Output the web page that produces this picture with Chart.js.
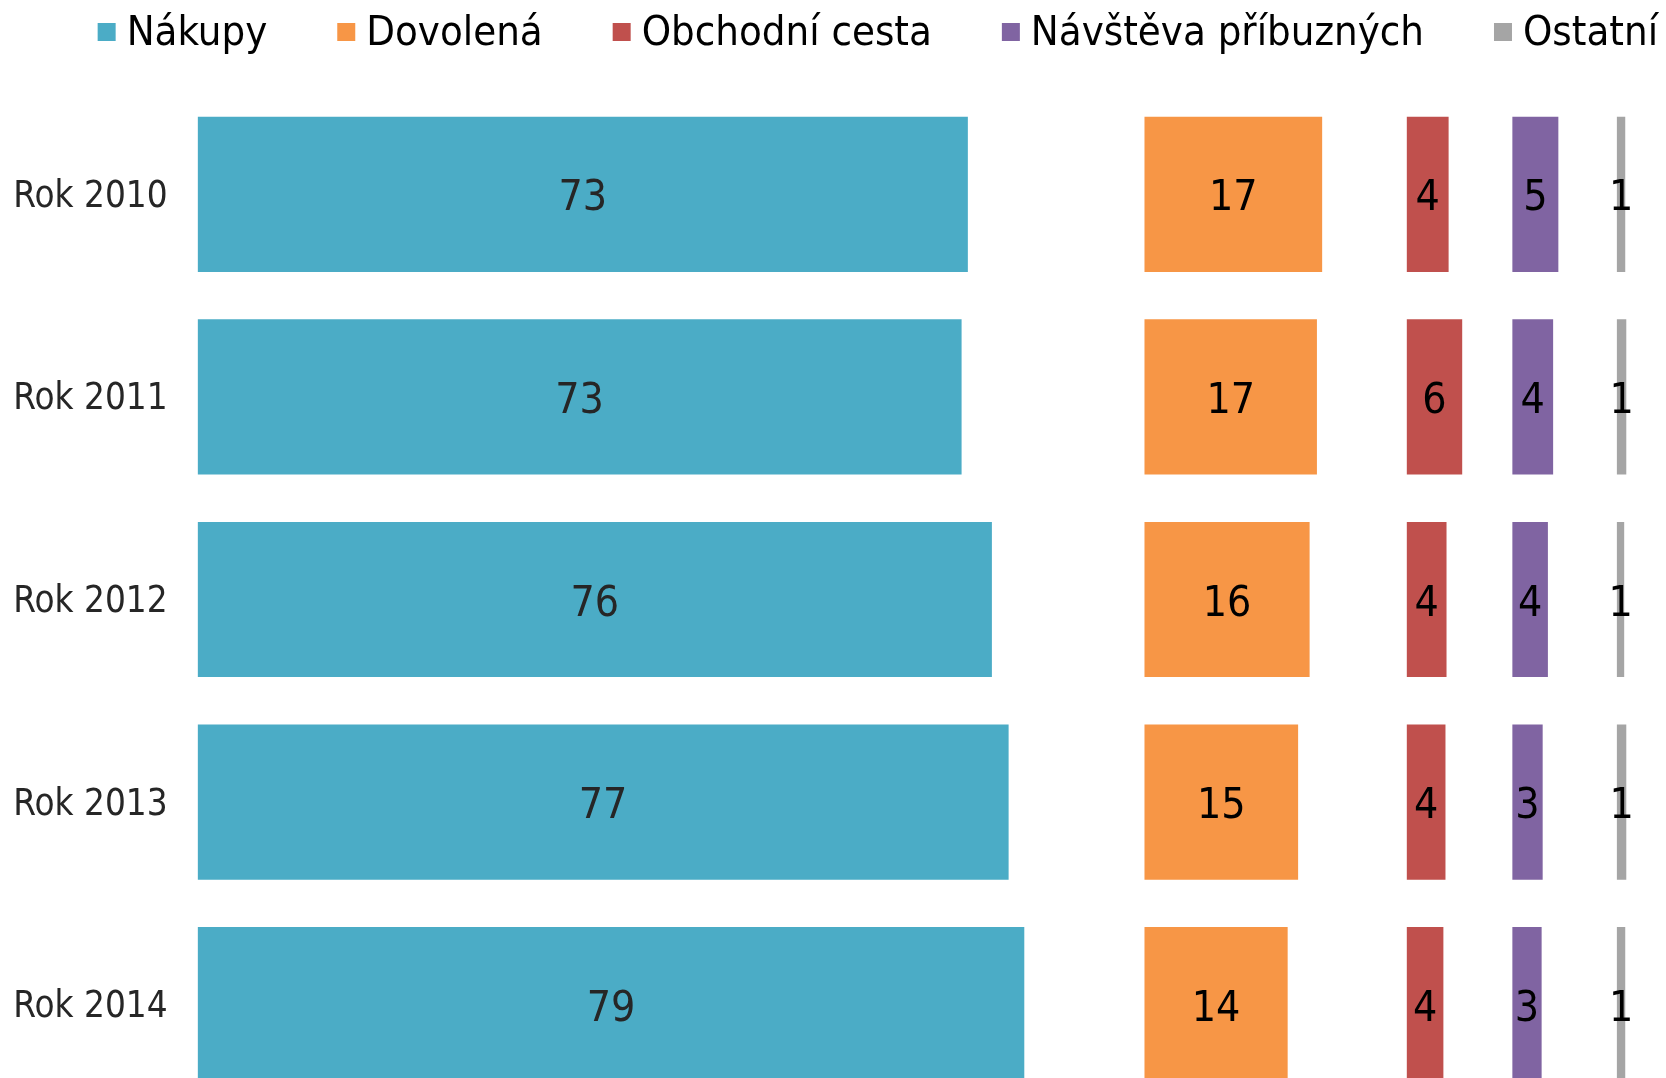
<!DOCTYPE html>
<html>
<head>
<meta charset="utf-8">
<script src="https://cdn.jsdelivr.net/npm/chart.js@4.4.1/dist/chart.umd.min.js"></script>
<style>
  html, body { margin: 0; padding: 0; background: #fff; overflow: hidden; }
  #wrap { position: relative; width: 1666px; height: 1078px; overflow: hidden; }
  canvas { display: block; }
</style>
</head>
<body>
<div id="wrap"><canvas id="chart" width="1666" height="1120"></canvas></div>
<script>
var years = ["Rok 2010", "Rok 2011", "Rok 2012", "Rok 2013", "Rok 2014"];
var seriesNames = ["Nákupy", "Dovolená", "Obchodní cesta", "Návštěva příbuzných", "Ostatní"];

// bar lengths, the printed numbers are kept apart
var nakupy = [73.7, 73.1, 76.0, 77.6, 79.1];
var dovolena = [17.0, 16.5, 15.8, 14.7, 13.7];
var obchodni = [4.0, 5.3, 3.8, 3.7, 3.5];
var navsteva = [4.4, 3.9, 3.4, 2.9, 2.8];
var ostatni = [0.8, 0.9, 0.7, 0.9, 0.8];

var nakupyLabels = [73, 73, 76, 77, 79];
var dovolenaLabels = [17, 17, 16, 15, 14];
var obchodniLabels = [4, 6, 4, 4, 4];
var navstevaLabels = [5, 4, 4, 3, 3];
var ostatniLabels = [1, 1, 1, 1, 1];

// where each column of bars begins on the value axis
var columnStart = [0, 90.6, 115.7, 125.8, 135.8];

var colors = ["#4BACC6", "#F79646", "#C0504D", "#8064A2", "#A5A5A5"];
var labelColors = ["#262626", "#000000", "#000000", "#000000", "#000000"];
var FONT = "'DejaVu Sans Condensed', 'DejaVu Sans', sans-serif";

Chart.defaults.font.family = FONT;

var allValues = [nakupy, dovolena, obchodni, navsteva, ostatni];
var allLabels = [nakupyLabels, dovolenaLabels, obchodniLabels, navstevaLabels, ostatniLabels];

var datasets = seriesNames.map(function(name, s) {
  return {
    label: name,
    data: allValues[s].map(function(v) { return [columnStart[s], columnStart[s] + v]; }),
    shown: allLabels[s],
    labelColor: labelColors[s],
    backgroundColor: colors[s],
    borderWidth: 0,
    grouped: false,
    categoryPercentage: 1,
    barPercentage: 0.766
  };
});

var valueLabels = {
  id: "valueLabels",
  afterDatasetsDraw: function(chart) {
    var ctx = chart.ctx;
    ctx.save();
    ctx.font = "42.5px " + FONT;
    ctx.textAlign = "center";
    ctx.textBaseline = "middle";
    chart.data.datasets.forEach(function(ds, i) {
      var meta = chart.getDatasetMeta(i);
      ctx.fillStyle = ds.labelColor;
      meta.data.forEach(function(bar, j) {
        var p = bar.getCenterPoint();
        ctx.fillText(String(ds.shown[j]), p.x, p.y + 5);
      });
    });
    ctx.restore();
  }
};

var topLegend = {
  id: "topLegend",
  afterDraw: function(chart) {
    var ctx = chart.ctx;
    var items = chart.data.datasets;
    var box = 18, gap = 11, spacing = 70, cy = 32;
    ctx.save();
    ctx.font = "41.5px " + FONT;
    ctx.textBaseline = "middle";
    ctx.textAlign = "left";
    var widths = items.map(function(d) { return ctx.measureText(d.label).width; });
    var total = widths.reduce(function(a, b) { return a + b; }, 0) +
      items.length * (box + gap) + (items.length - 1) * spacing;
    var x = chart.width - 8 - total;
    items.forEach(function(d, i) {
      ctx.fillStyle = d.backgroundColor;
      ctx.fillRect(x, cy - box / 2, box, box);
      ctx.fillStyle = "#000";
      ctx.fillText(d.label, x + box + gap, cy + 2);
      x += box + gap + widths[i] + spacing;
    });
    ctx.restore();
  }
};

var ctx = document.getElementById("chart").getContext("2d");
var myChart = new Chart(ctx, {
  type: "bar",
  data: { labels: years, datasets: datasets },
  plugins: [valueLabels, topLegend],
  options: {
    indexAxis: "y",
    responsive: false,
    animation: false,
    layout: { padding: { top: 93, bottom: 14, left: 0, right: 0 } },
    plugins: {
      legend: { display: false },
      tooltip: { enabled: false }
    },
    scales: {
      x: {
        display: false,
        min: 0,
        max: 140.5
      },
      y: {
        grid: { display: false },
        border: { display: false },
        ticks: {
          padding: 22,
          labelOffset: 3,
          color: "#262626",
          font: { size: 36.5 }
        },
        afterFit: function(scale) {
          scale.width = 197.6;
          // labels sit mid-band, no need to keep room for them at the ends
          scale.paddingTop = 0;
          scale.paddingBottom = 0;
        }
      }
    }
  }
});
</script>
</body>
</html>
